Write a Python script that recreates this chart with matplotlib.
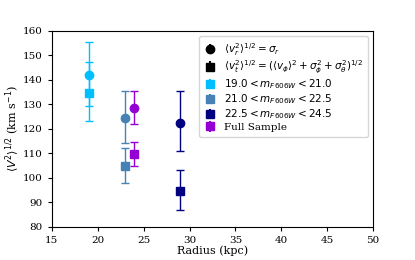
import numpy as np
import matplotlib
matplotlib.use('Agg')
import matplotlib.pyplot as plt

plt.rcParams['font.family'] = 'DejaVu Serif'
plt.rcParams['mathtext.fontset'] = 'dejavusans'

# radius of each magnitude bin (kpc)
radius = [19.0, 23.0, 29.0, 24.0]
colors = ['deepskyblue', 'steelblue', 'navy', 'darkviolet']
labels = [r'$19.0 < m_{F606W} < 21.0$', r'$21.0 < m_{F606W} < 22.5$',
          r'$22.5 < m_{F606W} < 24.5$', 'Full Sample']

# radial dispersion (circles)
sig_r = [141.9, 124.4, 122.3, 128.7]
sig_r_lo = [12.6, 10.0, 11.3, 6.8]
sig_r_hi = [13.7, 11.2, 13.3, 6.9]

# tangential dispersion (squares)
sig_t = [134.6, 104.9, 94.6, 109.9]
sig_t_lo = [11.2, 7.1, 7.5, 4.9]
sig_t_hi = [12.6, 7.5, 8.5, 4.9]

fig, ax = plt.subplots(figsize=(4.15, 2.6), dpi=100)
fig.subplots_adjust(left=0.125, right=0.899, bottom=0.127, top=0.881)

for i in range(len(radius)):
    ax.errorbar(radius[i], sig_r[i], yerr=[[sig_r_lo[i]], [sig_r_hi[i]]],
                fmt='o', color=colors[i], ms=6, capsize=3, elinewidth=1)
    ax.errorbar(radius[i], sig_t[i], yerr=[[sig_t_lo[i]], [sig_t_hi[i]]],
                fmt='s', color=colors[i], ms=6, capsize=3, elinewidth=1)

# legend proxies
handles = []
handles.append(ax.errorbar([np.nan], [np.nan], yerr=[1], fmt='o', color='k', ms=6))
handles.append(ax.errorbar([np.nan], [np.nan], yerr=[1], fmt='s', color='k', ms=6))
for c in colors:
    handles.append(ax.errorbar([np.nan], [np.nan], yerr=[1], fmt='s', color=c, ms=6))
leg_labels = [r'$\langle v_r^2\rangle^{1/2} = \sigma_r$',
              r'$\langle v_t^2\rangle^{1/2} = (\langle v_\phi\rangle^2 + \sigma_\phi^2 + \sigma_\theta^2)^{1/2}$'] + labels
ax.legend(handles, leg_labels, loc='upper right', fontsize=7.5, handlelength=1.2,
          labelspacing=0.12, borderpad=0.45)

ax.set_xlim(15, 50)
ax.set_ylim(80, 160)
ax.tick_params(labelsize=7.5, length=3)
ax.set_xlabel('Radius (kpc)', fontsize=8, labelpad=0)
ax.set_ylabel(r'$\langle V^2\rangle^{1/2}$ (km s$^{-1}$)', fontsize=8, labelpad=1)

fig.savefig('out.png', dpi=100)
